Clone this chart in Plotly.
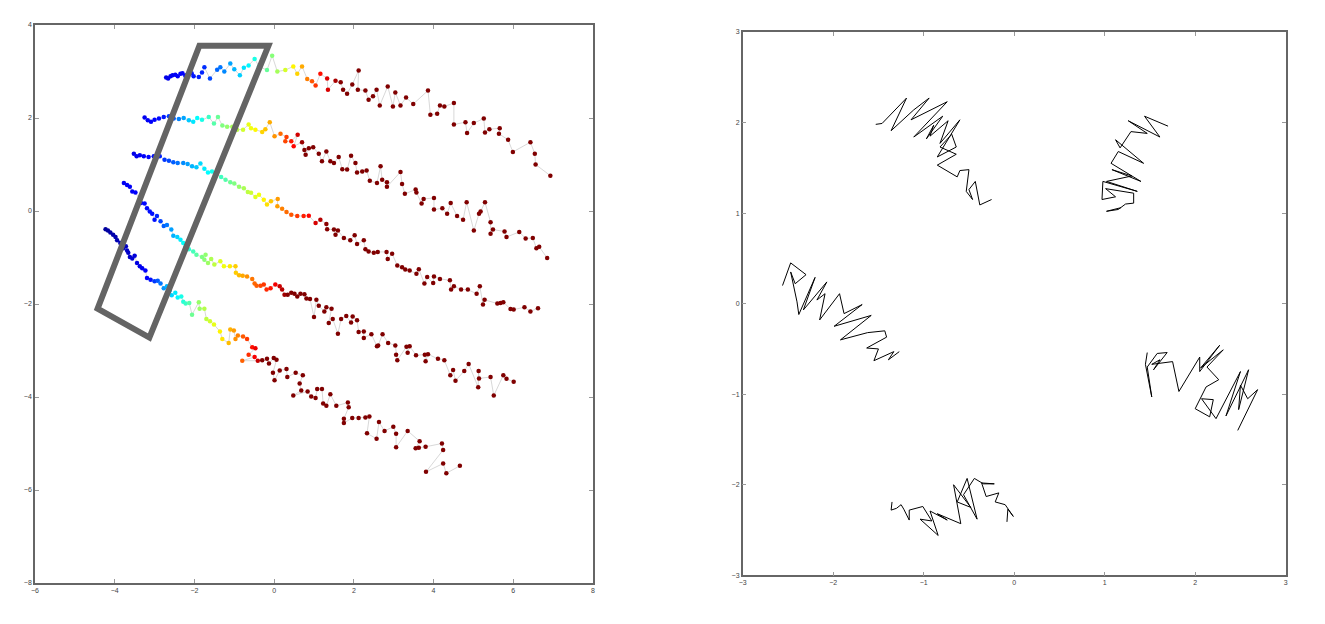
import numpy as np
import plotly.graph_objects as go

# ---------------- Left panel: five bands of points (x, y) ----------------
BAND1 = [(-2.71,2.87),(-2.66,2.85),(-2.60,2.90),(-2.55,2.92),(-2.48,2.93),(-2.42,2.90),(-2.35,2.95),(-2.30,2.96),
         (-2.23,2.91),(-2.18,2.93),(-2.12,2.95),(-2.07,2.96),(-2.02,2.90),(-1.89,2.88),(-1.81,2.98),(-1.75,3.09),
         (-1.61,2.85),(-1.43,3.04),(-1.35,3.09),(-1.25,3.00),(-1.10,3.17),(-1.00,3.05),(-0.86,2.92),(-0.76,3.08),
         (-0.64,3.13),(-0.49,3.27),(-0.38,3.11),(-0.18,3.03),(-0.05,3.34),(0.08,3.00),(0.28,3.03),(0.48,3.11),
         (0.58,2.95),(0.70,3.11),(0.83,2.84),(0.95,2.79),(1.04,2.70),(1.16,2.95),(1.33,2.85),(1.35,2.61),
         (1.54,2.80),(1.67,2.77),(1.73,2.61),(1.83,2.52),(1.96,2.72),(2.12,3.02),(2.10,2.61),(2.29,2.59),
         (2.37,2.39),(2.48,2.47),(2.57,2.61),(2.65,2.27),(2.85,2.68),(2.98,2.25),(3.04,2.55),(3.17,2.27),
         (3.31,2.44),(3.49,2.30),(3.86,2.59),(3.92,2.07),(4.09,2.09),(4.16,2.27),(4.27,2.25),(4.51,2.32),
         (4.51,1.86),(4.80,1.91),(4.84,1.68),(5.01,1.89),(5.26,1.99),(5.29,1.69),(5.40,1.76),(5.66,1.78),
         (5.64,1.66),(5.87,1.53),(5.99,1.27),(6.43,1.48),(6.54,1.23),(6.56,1.00),(6.93,0.76)]

BAND2 = [(-3.25,2.01),(-3.17,1.95),(-3.09,1.92),(-3.00,1.96),(-2.89,1.99),(-2.77,2.02),(-2.64,2.04),(-2.52,1.99),
         (-2.39,1.98),(-2.27,2.00),(-2.14,1.95),(-2.03,1.92),(-1.93,2.00),(-1.81,1.96),(-1.64,2.02),(-1.51,1.88),
         (-1.41,2.02),(-1.30,1.84),(-1.18,1.81),(-1.05,1.81),(-0.93,1.75),(-0.78,1.75),(-0.64,1.86),(-0.58,1.78),
         (-0.47,1.75),(-0.30,1.70),(-0.22,1.76),(-0.11,1.91),(0.01,1.61),(0.16,1.66),(0.31,1.59),(0.28,1.50),
         (0.43,1.50),(0.59,1.64),(0.49,1.39),(0.70,1.48),(0.76,1.31),(0.79,1.21),(0.87,1.35),(0.98,1.37),
         (1.12,1.23),(1.20,1.07),(1.31,1.28),(1.41,1.07),(1.50,1.03),(1.62,1.16),(1.71,0.90),(1.83,0.89),
         (1.93,1.19),(2.04,1.03),(2.08,0.83),(2.21,0.85),(2.32,0.87),(2.40,0.65),(2.58,0.60),(2.67,0.96),
         (2.71,0.67),(2.83,0.62),(2.83,0.52),(3.17,0.84),(3.21,0.58),(3.28,0.37),(3.55,0.46),(3.57,0.40),
         (3.70,0.16),(3.75,0.26),(4.01,0.28),(4.01,0.03),(4.22,0.06),(4.34,-0.06),(4.43,0.17),(4.59,-0.11),
         (4.74,-0.19),(4.83,0.19),(5.01,-0.42),(5.14,-0.06),(5.18,-0.01),(5.29,0.19),(5.43,-0.24),(5.43,-0.49),
         (5.49,-0.40),(5.78,-0.44),(5.83,-0.56),(6.15,-0.45),(6.31,-0.59),(6.49,-0.58),(6.58,-0.80),(6.65,-0.77),
         (6.85,-1.01)]

BAND3 = [(-3.52,1.23),(-3.45,1.18),(-3.37,1.20),(-3.27,1.18),(-3.15,1.16),(-3.02,1.18),(-2.87,1.18),(-2.75,1.10),
         (-2.64,1.08),(-2.53,1.05),(-2.42,1.03),(-2.28,1.03),(-2.17,1.01),(-2.06,0.96),(-1.95,0.94),(-1.85,1.02),
         (-1.75,0.91),(-1.66,0.83),(-1.56,0.85),(-1.45,0.80),(-1.33,0.73),(-1.22,0.67),(-1.10,0.62),(-1.00,0.59),
         (-0.88,0.52),(-0.76,0.49),(-0.66,0.41),(-0.58,0.39),(-0.47,0.30),(-0.38,0.35),(-0.26,0.24),(-0.18,0.14),
         (-0.08,0.21),(0.09,0.26),(0.08,0.10),(0.20,0.05),(0.31,-0.02),(0.43,-0.08),(0.58,-0.11),(0.74,-0.11),
         (0.87,-0.10),(1.04,-0.26),(1.16,-0.19),(1.31,-0.28),(1.33,-0.39),(1.50,-0.40),(1.54,-0.51),(1.60,-0.42),
         (1.75,-0.58),(1.91,-0.63),(2.02,-0.52),(2.08,-0.71),(2.25,-0.63),(2.29,-0.82),(2.37,-0.87),(2.50,-0.90),
         (2.60,-0.88),(2.82,-0.88),(2.85,-1.03),(2.96,-0.92),(3.09,-1.17),(3.21,-1.21),(3.29,-1.26),(3.40,-1.28),
         (3.57,-1.35),(3.63,-1.25),(3.77,-1.56),(3.84,-1.42),(3.99,-1.55),(4.01,-1.41),(4.16,-1.46),(4.41,-1.49),
         (4.44,-1.69),(4.51,-1.62),(4.69,-1.69),(4.86,-1.69),(5.08,-1.78),(5.16,-1.62),(5.24,-2.01),(5.28,-1.91),
         (5.60,-1.99),(5.68,-1.98),(5.75,-1.96),(5.93,-2.11),(6.01,-2.12),(6.28,-2.07),(6.43,-2.16),(6.62,-2.09)]

BAND4 = [(-3.77,0.60),(-3.69,0.56),(-3.62,0.52),(-3.56,0.42),(-3.48,0.40),(-3.37,0.24),(-3.34,0.17),(-3.25,0.16),
         (-3.19,0.06),(-3.12,-0.01),(-3.06,-0.06),(-3.00,-0.19),(-2.94,-0.11),(-2.85,-0.22),(-2.77,-0.32),(-2.69,-0.30),
         (-2.58,-0.40),(-2.53,-0.53),(-2.43,-0.56),(-2.35,-0.62),(-2.28,-0.69),(-2.22,-0.76),(-2.14,-0.82),(-2.03,-0.87),
         (-1.95,-0.94),(-1.81,-0.99),(-1.72,-0.94),(-1.75,-1.05),(-1.66,-1.12),(-1.58,-1.03),(-1.50,-1.15),(-1.35,-1.08),
         (-1.26,-1.19),(-1.11,-1.19),(-0.97,-1.19),(-0.96,-1.33),(-0.88,-1.38),(-0.79,-1.39),(-0.68,-1.41),(-0.55,-1.46),
         (-0.49,-1.56),(-0.44,-1.61),(-0.34,-1.61),(-0.26,-1.58),(-0.19,-1.69),(-0.09,-1.66),(0.03,-1.58),(0.14,-1.62),
         (0.20,-1.69),(0.26,-1.80),(0.34,-1.80),(0.43,-1.76),(0.51,-1.78),(0.58,-1.84),(0.66,-1.78),(0.76,-1.79),
         (0.81,-1.88),(0.90,-1.89),(1.00,-2.28),(1.06,-1.91),(1.12,-2.04),(1.26,-2.16),(1.31,-2.07),(1.44,-2.10),
         (1.37,-2.41),(1.47,-2.32),(1.60,-2.64),(1.68,-2.32),(1.81,-2.26),(1.93,-2.40),(1.97,-2.27),(2.08,-2.35),
         (2.12,-2.60),(2.25,-2.59),(2.25,-2.73),(2.44,-2.65),(2.58,-2.91),(2.61,-2.89),(2.72,-2.65),(2.86,-2.84),
         (3.04,-2.89),(3.06,-3.09),(3.09,-3.21),(3.32,-2.92),(3.35,-3.05),(3.40,-2.91),(3.56,-3.10),(3.78,-3.09),
         (3.80,-3.23),(3.86,-3.08),(4.11,-3.18),(4.27,-3.21),(4.42,-3.53),(4.49,-3.42),(4.55,-3.65),(4.77,-3.44),
         (4.88,-3.29),(5.12,-3.79),(5.13,-3.44),(5.14,-3.60),(5.43,-3.57),(5.51,-3.97),(5.75,-3.53),(5.83,-3.61),
         (6.01,-3.67)]

BAND5 = [(-4.23,-0.39),(-4.17,-0.42),(-4.11,-0.46),(-4.04,-0.51),(-3.98,-0.56),(-3.94,-0.63),(-3.86,-0.69),(-3.79,-0.80),
         (-3.72,-0.76),(-3.69,-0.85),(-3.66,-0.90),(-3.62,-0.99),(-3.56,-1.02),(-3.50,-0.96),(-3.44,-1.12),(-3.37,-1.19),
         (-3.31,-1.23),(-3.23,-1.28),(-3.19,-1.44),(-3.10,-1.48),(-3.00,-1.51),(-2.92,-1.50),(-2.85,-1.56),(-2.77,-1.66),
         (-2.69,-1.62),(-2.62,-1.71),(-2.57,-1.81),(-2.48,-1.76),(-2.42,-1.86),(-2.33,-1.84),(-2.28,-1.95),(-2.22,-1.99),
         (-2.13,-1.98),(-2.06,-2.23),(-1.89,-1.96),(-1.87,-2.10),(-1.75,-2.10),(-1.70,-2.32),(-1.61,-2.37),(-1.51,-2.44),
         (-1.36,-2.59),(-1.30,-2.75),(-1.14,-2.84),(-1.10,-2.55),(-1.01,-2.57),(-0.97,-2.75),(-0.91,-2.68),(-0.78,-2.70),
         (-0.68,-2.75),(-0.55,-2.93),(-0.47,-2.95),(-0.64,-3.09),(-0.49,-3.14),(-0.80,-3.22),(-0.41,-3.22),(-0.30,-3.21),
         (-0.18,-3.18),(-0.13,-3.28),(-0.01,-3.16),(0.06,-3.20),(-0.03,-3.48),(0.01,-3.64),(0.14,-3.43),(0.31,-3.40),
         (0.33,-3.57),(0.54,-3.48),(0.72,-3.53),(0.64,-3.71),(0.68,-3.86),(0.48,-3.97),(0.84,-3.88),(0.93,-3.99),
         (1.04,-4.02),(1.08,-3.83),(1.20,-3.83),(1.23,-4.14),(1.31,-4.19),(1.41,-3.94),(1.56,-4.19),(1.85,-4.12),
         (1.87,-4.22),(1.75,-4.47),(1.75,-4.56),(1.96,-4.45),(2.12,-4.45),(2.29,-4.44),(2.39,-4.42),(2.33,-4.78),
         (2.57,-4.90),(2.63,-4.54),(2.77,-4.73),(2.99,-4.64),(3.06,-4.79),(3.06,-5.08),(3.35,-4.73),(3.65,-4.95),
         (3.55,-5.10),(3.63,-5.09),(3.80,-5.07),(4.21,-5.00),(4.24,-5.14),(3.81,-5.61),(4.24,-5.43),(4.32,-5.64),
         (4.66,-5.48)]

# colour position (0..1 on jet) along each band, as anchor x -> colour value
COLOR_ANCHORS = [
    ([-2.7, -1.8, -0.6, 0.45, 1.2, 1.7], [0.10, 0.16, 0.375, 0.625, 0.875, 1.0]),
    ([-3.25, -2.8, -2.0, -1.3, -0.5, 0.1, 0.5, 0.75], [0.11, 0.14, 0.36, 0.5, 0.625, 0.75, 0.875, 1.0]),
    ([-3.5, -2.9, -1.65, -1.0, -0.3, 0.2, 0.9, 1.35], [0.10, 0.15, 0.375, 0.5, 0.625, 0.75, 0.875, 1.0]),
    ([-3.8, -3.0, -2.3, -1.8, -1.2, -0.6, 0.0, 0.35], [0.11, 0.14, 0.375, 0.5, 0.625, 0.75, 0.875, 1.0]),
    ([-4.2, -3.6, -3.1, -2.7, -2.4, -2.0, -1.4, -0.9, -0.5, -0.3], [0.02, 0.07, 0.14, 0.3, 0.375, 0.5, 0.625, 0.75, 0.875, 1.0]),
]

# highlighted parallelogram (data coordinates of its corners)
BOX_CORNERS = [(-1.875, 3.555), (-0.143, 3.555), (-3.13, -2.722), (-4.43, -2.10)]

# ---------------- Right panel: five trajectories ----------------
TRAJ_A = [(-1.53,1.98),(-1.46,1.99),(-1.19,2.27),(-1.36,1.91),(-1.11,2.14),(-0.94,2.27),(-1.14,2.03),(-0.74,2.23),
          (-1.11,1.84),(-0.79,2.07),(-0.97,1.82),(-0.89,1.97),(-0.93,1.85),(-0.73,2.02),(-0.82,1.77),(-0.60,2.03),
          (-0.85,1.62),(-0.64,1.73),(-0.69,1.87),(-0.82,1.73),(-0.64,1.65),(-0.85,1.53),(-0.63,1.40),(-0.60,1.47),
          (-0.50,1.48),(-0.53,1.24),(-0.46,1.15),(-0.50,1.26),(-0.43,1.35),(-0.38,1.09),(-0.25,1.15)]
TRAJ_B = [(1.70,1.96),(1.44,2.07),(1.61,1.84),(1.26,2.02),(1.47,1.88),(1.29,1.90),(1.17,1.72),(1.12,1.81),
          (1.43,1.55),(1.15,1.68),(1.07,1.55),(1.40,1.35),(1.08,1.48),(1.30,1.41),(1.02,1.35),(1.36,1.24),
          (0.98,1.35),(0.97,1.15),(1.12,1.18),(1.01,1.27),(1.32,1.22),(1.32,1.11),(1.23,1.10),(1.15,1.04),
          (1.02,1.02),(1.18,1.06)]
TRAJ_C = [(-2.56,0.20),(-2.47,0.45),(-2.30,0.32),(-2.42,0.22),(-2.47,0.35),(-2.40,0.02),(-2.38,-0.12),(-2.20,0.29),
          (-2.33,-0.07),(-2.07,0.24),(-2.18,0.04),(-2.09,0.11),(-2.15,-0.18),(-1.93,0.11),(-1.88,-0.11),(-1.68,-0.01),
          (-1.99,-0.25),(-1.58,-0.13),(-1.92,-0.40),(-1.62,-0.32),(-1.43,-0.30),(-1.41,-0.37),(-1.63,-0.49),(-1.50,-0.50),
          (-1.55,-0.63),(-1.33,-0.53),(-1.39,-0.62),(-1.27,-0.53)]
TRAJ_D = [(-1.35,-2.19),(-1.36,-2.28),(-1.30,-2.26),(-1.25,-2.22),(-1.22,-2.27),(-1.16,-2.39),(-1.16,-2.28),(-1.01,-2.24),
          (-0.91,-2.40),(-1.04,-2.38),(-0.84,-2.56),(-0.93,-2.29),(-0.74,-2.39),(-0.85,-2.32),(-0.59,-2.43),(-0.67,-2.00),
          (-0.48,-2.25),(-0.63,-2.19),(-0.52,-1.93),(-0.41,-2.38),(-0.56,-2.11),(-0.44,-1.93),(-0.34,-1.99),(-0.22,-1.99),
          (-0.36,-1.98),(-0.31,-2.13),(-0.17,-2.09),(-0.21,-2.19),(-0.10,-2.22),(-0.01,-2.35),(-0.07,-2.27),(-0.08,-2.41)]
TRAJ_E = [(1.47,-0.54),(1.45,-0.67),(1.52,-1.03),(1.47,-0.70),(1.58,-0.55),(1.69,-0.54),(1.54,-0.73),(1.61,-0.62),
          (1.52,-0.67),(1.75,-0.64),(1.82,-0.97),(2.05,-0.59),(2.05,-0.75),(2.27,-0.46),(2.06,-0.71),(2.31,-0.51),
          (2.13,-0.70),(2.26,-0.84),(2.12,-0.92),(2.00,-1.16),(2.16,-1.25),(2.20,-1.06),(2.07,-1.05),(2.23,-1.27),
          (2.50,-0.75),(2.34,-1.24),(2.59,-0.73),(2.48,-1.17),(2.50,-0.90),(2.58,-1.05),(2.69,-0.95),(2.47,-1.40)]

LEFT_XTICKS = [-6, -4, -2, 0, 2, 4, 6, 8]
LEFT_YTICKS = [-8, -6, -4, -2, 0, 2, 4]
RIGHT_TICKS = [-3, -2, -1, 0, 1, 2, 3]

JET = [[0.0, 'rgb(0,0,140)'], [0.125, 'rgb(0,0,255)'], [0.375, 'rgb(0,255,255)'],
       [0.625, 'rgb(255,255,0)'], [0.875, 'rgb(255,0,0)'], [1.0, 'rgb(128,0,0)']]

fig = go.Figure()

for band, (ax, ac) in zip([BAND1, BAND2, BAND3, BAND4, BAND5], COLOR_ANCHORS):
    xs = [p[0] for p in band]
    ys = [p[1] for p in band]
    cvals = np.interp(xs, ax, ac)
    fig.add_trace(go.Scatter(
        x=xs, y=ys, mode='lines+markers', xaxis='x', yaxis='y',
        line=dict(color='rgba(200,200,200,0.7)', width=1),
        marker=dict(size=4.5, color=cvals, colorscale=JET, cmin=0, cmax=1, line=dict(width=0)),
        showlegend=False, hoverinfo='skip'))

for traj in [TRAJ_A, TRAJ_B, TRAJ_C, TRAJ_D, TRAJ_E]:
    fig.add_trace(go.Scatter(
        x=[p[0] for p in traj], y=[p[1] for p in traj], mode='lines',
        xaxis='x2', yaxis='y2', line=dict(color='black', width=1),
        showlegend=False, hoverinfo='skip'))

path = 'M ' + ' L '.join(f'{x} {y}' for x, y in BOX_CORNERS) + ' Z'
fig.add_shape(type='path', path=path, xref='x', yref='y',
              line=dict(color='rgb(100,100,100)', width=6), fillcolor='rgba(0,0,0,0)')

axis_style = dict(showgrid=False, zeroline=False, showline=True, linecolor='#666', linewidth=1.5,
                  mirror='ticks', ticks='inside', ticklen=4, tickcolor='#999', tickwidth=1,
                  tickfont=dict(family='Liberation Sans, Arial, sans-serif', size=7, color='#444'),
                  automargin=False)

# page is rendered with an 8px body margin; figure coordinates = page coordinates - 8
W, H, OFF = 1309, 608, 8

def xd(a, b):
    return [(a - OFF) / W, (b - OFF) / W]

def yd(top, bottom):
    return [1 - (bottom - OFF) / H, 1 - (top - OFF) / H]

fig.update_layout(
    width=W, height=H, margin=dict(l=0, r=0, t=0, b=0),
    paper_bgcolor='white', plot_bgcolor='white',
    xaxis=dict(domain=xd(35, 593), range=[-6, 8], tickvals=LEFT_XTICKS, anchor='y', **axis_style),
    yaxis=dict(domain=yd(25, 583), range=[-8, 4], tickvals=LEFT_YTICKS, anchor='x', **axis_style),
    xaxis2=dict(domain=xd(742.7, 1285.7), range=[-3, 3], tickvals=RIGHT_TICKS, anchor='y2', **axis_style),
    yaxis2=dict(domain=yd(32, 575.3), range=[-3, 3], tickvals=RIGHT_TICKS, anchor='x2', **axis_style),
)

fig.write_html('out.html')
